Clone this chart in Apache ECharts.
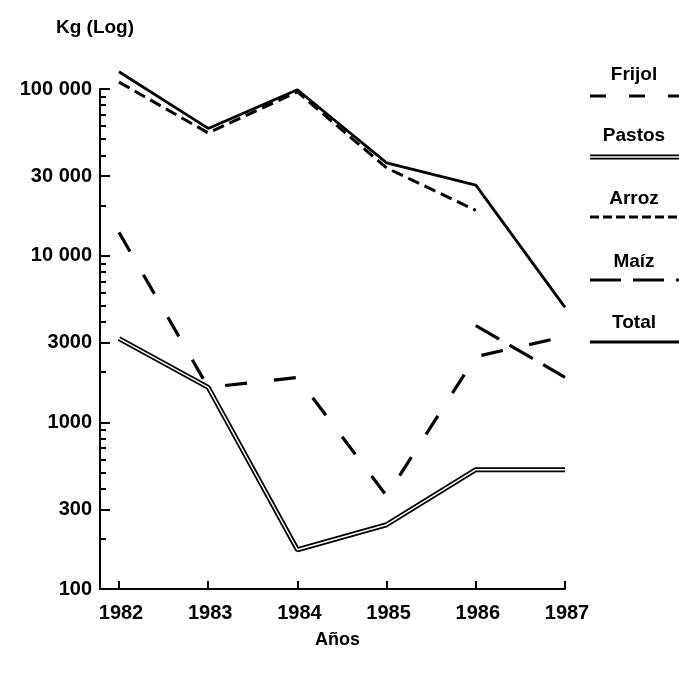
<!DOCTYPE html>
<html>
<head>
<meta charset="utf-8">
<script src="https://cdn.jsdelivr.net/npm/echarts@6/dist/echarts.min.js"></script>
<style>
  html, body { margin: 0; padding: 0; background: #fff; }
  #chart { width: 679px; height: 673px; }
</style>
</head>
<body>
<div id="chart"></div>
<script>
// datos (kg, escala log)
const years = [1982, 1983, 1984, 1985, 1986, 1987]
const total = [127000, 58000, 99000, 36000, 26500, 4900]
const arroz = [110000, 54500, 96000, 33600, 18700, null]
const pastos = [3180, 1620, 172, 243, 520, 520]
const frijol = [13800, 1620, 1860, 362, 2480, 3270]
const maiz = [null, null, null, null, 3810, 1860]

const yLabelValues = [100, 300, 1000, 3000, 10000, 30000, 100000]
const yMinorValues = [200, 400, 500, 600, 700, 800, 900,
  2000, 4000, 5000, 6000, 7000, 8000, 9000,
  20000, 40000, 50000, 60000, 70000, 80000, 90000]
const legendNames = ['Frijol', 'Pastos', 'Arroz', 'Maíz', 'Total']

const FONT = 'Liberation Sans'

const toPoints = arr => years.map((y, i) => [y, arr[i] == null ? '-' : arr[i]])

const fmtY = v => v >= 10000 ? String(v).replace(/\B(?=(\d{3})+(?!\d))/g, ' ') : String(v)

// estilos de linea
const lineStyles = {
  Frijol: { type: [22, 27], width: 3.2 },
  Arroz: { type: [12, 6], width: 3 },
  'Maíz': { type: [27, 12], width: 3.2 },
  Total: { type: 'solid', width: 2.8 }
}
const legendDash = { Frijol: [16, 23], Arroz: [9, 4], 'Maíz': [31, 12], Total: null }

const chart = echarts.init(document.getElementById('chart'))

const mkLine = (name, data) => ({
  name,
  type: 'line',
  data: toPoints(data),
  showSymbol: false,
  symbol: 'none',
  clip: false,
  lineStyle: { color: '#000', width: lineStyles[name].width, type: lineStyles[name].type, cap: 'butt' }
})

// leyenda a la derecha: texto encima, muestra de linea debajo
const legendGraphic = []
const labelY = [75, 136, 199, 262, 323]
const sampleY = [96, 157, 217, 280, 342]
legendNames.forEach((name, i) => {
  legendGraphic.push({
    type: 'text', x: 634, y: labelY[i],
    style: { text: name, font: 'bold 19px "' + FONT + '"', fill: '#000', align: 'center', verticalAlign: 'middle' }
  })
  if (name === 'Pastos') {
    legendGraphic.push({ type: 'line', shape: { x1: 590, y1: sampleY[i], x2: 679, y2: sampleY[i] }, style: { stroke: '#000', lineWidth: 5 } })
    legendGraphic.push({ type: 'line', shape: { x1: 590, y1: sampleY[i], x2: 679, y2: sampleY[i] }, style: { stroke: '#fff', lineWidth: 1.5 } })
  } else {
    legendGraphic.push({
      type: 'line', shape: { x1: 590, y1: sampleY[i], x2: 679, y2: sampleY[i] },
      style: { stroke: '#000', lineWidth: 3.2, lineDash: legendDash[name] }
    })
  }
})

const option = {
  animation: false,
  backgroundColor: '#fff',
  grid: { left: 100, right: 114, top: 89, bottom: 84 },
  xAxis: {
    type: 'value',
    min: 1981.787,
    max: 1987,
    name: 'Años',
    nameLocation: 'middle',
    nameGap: 42,
    nameTextStyle: { fontFamily: FONT, fontWeight: 'bold', fontSize: 18, color: '#000', padding: [0, 0, 0, 10] },
    axisLine: { lineStyle: { color: '#000', width: 2 } },
    axisTick: { inside: true, length: 8, lineStyle: { color: '#000', width: 2 }, customValues: years },
    axisLabel: {
      customValues: years, formatter: v => String(v), margin: 14,
      color: '#000', fontFamily: FONT, fontWeight: 'bold', fontSize: 20, padding: [0, 0, 0, 4]
    },
    splitLine: { show: false }
  },
  yAxis: [
    {
      type: 'log',
      logBase: 10,
      min: 100,
      max: 100000,
      name: 'Kg (Log)',
      nameLocation: 'end',
      nameGap: 52,
      nameTextStyle: { fontFamily: FONT, fontWeight: 'bold', fontSize: 19, color: '#000', align: 'center', padding: [0, 10, 0, 0] },
      axisLine: { show: true, lineStyle: { color: '#000', width: 2 } },
      axisTick: { show: true, inside: true, length: 10, lineStyle: { color: '#000', width: 2 }, customValues: yLabelValues },
      axisLabel: {
        customValues: yLabelValues, formatter: fmtY, margin: 8,
        color: '#000', fontFamily: FONT, fontWeight: 'bold', fontSize: 20, padding: [0, 0, 10, 0]
      },
      splitLine: { show: false }
    },
    {
      type: 'log',
      logBase: 10,
      min: 100,
      max: 100000,
      position: 'left',
      axisLine: { show: false },
      axisTick: { show: true, inside: true, length: 6, lineStyle: { color: '#000', width: 2 }, customValues: yMinorValues },
      axisLabel: { show: false },
      splitLine: { show: false }
    }
  ],
  graphic: legendGraphic,
  series: [
    mkLine('Total', total),
    mkLine('Arroz', arroz),
    mkLine('Frijol', frijol),
    mkLine('Maíz', maiz),
    {
      name: 'Pastos',
      type: 'line',
      data: toPoints(pastos),
      symbol: 'none',
      clip: false,
      lineStyle: { color: '#000', width: 5 }
    },
    {
      name: 'Pastos-centro',
      type: 'line',
      data: toPoints(pastos),
      symbol: 'none',
      clip: false,
      silent: true,
      lineStyle: { color: '#fff', width: 1.5 }
    }
  ]
}

chart.setOption(option)
</script>
</body>
</html>
